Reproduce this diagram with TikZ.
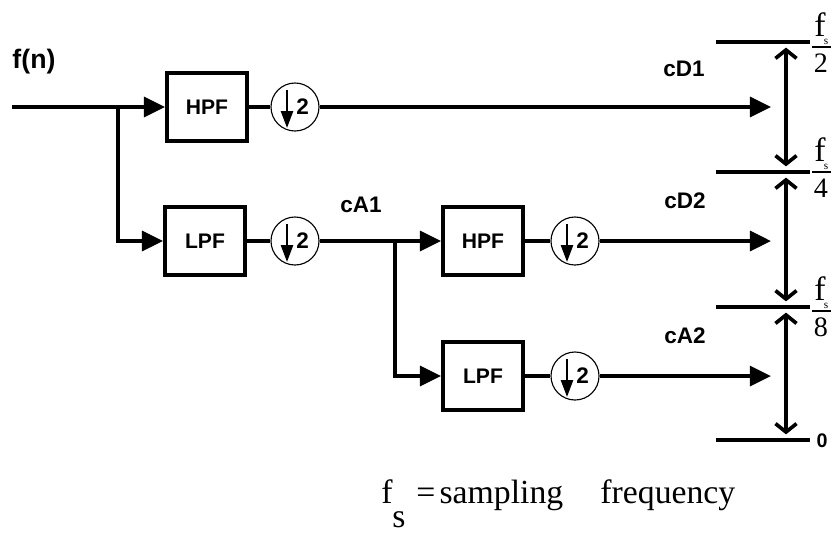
\documentclass[tikz,border=0pt]{standalone}
\usepackage{fontspec}
\setmainfont{Liberation Serif}
\setsansfont{Liberation Sans}
\usetikzlibrary{arrows.meta,positioning}

\tikzset{
  filt/.style={draw, line width=2.8pt, minimum width=2cm, minimum height=1.7cm,
    font=\sffamily\bfseries\fontsize{15}{17}\selectfont},
  decim/.style={draw, circle, line width=0.8pt, minimum size=1.2cm, inner sep=0pt,
    font=\sffamily\bfseries\fontsize{16}{17}\selectfont},
  sig/.style={line width=2.8pt},
  sigarr/.style={sig, -{Triangle[length=15pt,width=14pt]}},
  dnarr/.style={line width=1.8pt, -{Triangle[length=12pt,width=8.5pt]}},
  band/.style={line width=2.6pt,
    {Straight Barb[length=6pt,width=15pt]}-{Straight Barb[length=6pt,width=15pt]}},
  lab/.style={font=\sffamily\bfseries\fontsize{16}{18}\selectfont},
  fracnum/.style={font=\fontsize{24}{26}\selectfont, inner sep=0pt},
  fracden/.style={font=\fontsize{20}{22}\selectfont, inner sep=0pt},
  legend/.style={font=\fontsize{24}{26}\selectfont, inner sep=0pt}
}

\begin{document}
\begin{tikzpicture}[x=0.025cm,y=-0.025cm]
\useasboundingbox (0,0) rectangle (832,533);

% first stage
\node[font=\sffamily\bfseries\fontsize{19}{21}\selectfont] (fn) at (34,62) {f(n)};
\coordinate (in) at (12,107);
\coordinate (brA) at (118,107);
\node[filt] (hpfa) at (207,107) {HPF};
\node[filt] (lpfa) at (205,241) {LPF};
\node[decim] (dsa) at (295,107) {\hspace{11pt}\raisebox{-2pt}{2}};
\node[decim] (dsb) at (295,241) {\hspace{11pt}\raisebox{-2pt}{2}};

% second stage
\coordinate (brB) at (395,241);
\node[filt] (hpfb) at (483,241) {HPF};
\node[filt] (lpfb) at (483,376) {LPF};
\node[decim] (dsc) at (575,241) {\hspace{11pt}\raisebox{-2pt}{2}};
\node[decim] (dsd) at (575,376) {\hspace{11pt}\raisebox{-2pt}{2}};

\coordinate (outa) at (771,107);
\coordinate (outb) at (771,241);
\coordinate (outc) at (771,376);

\node[lab] (cda) at (684,69) {cD1};
\node[lab] (caa) at (361,205) {cA1};
\node[lab] (cdb) at (685,201) {cD2};
\node[lab] (cab) at (685,336) {cA2};

\draw[sigarr] (in) -- (hpfa.west);
\draw[sigarr] (brA) |- (lpfa.west);
\draw[sig] (hpfa) -- (dsa);
\draw[sigarr] (dsa) -- (outa);
\draw[sig] (lpfa) -- (dsb);
\draw[sig] (dsb) -- (brB);
\draw[sigarr] (brB) -- (hpfb.west);
\draw[sigarr] (brB) |- (lpfb.west);
\draw[sig] (hpfb) -- (dsc);
\draw[sigarr] (dsc) -- (outb);
\draw[sig] (lpfb) -- (dsd);
\draw[sigarr] (dsd) -- (outc);

\foreach \c in {dsa,dsb,dsc,dsd}
  \draw[dnarr] ([shift={(-8,-17)}]\c.center) -- ([shift={(-8,21)}]\c.center);

% frequency bands
\coordinate (lva) at (786,42);
\coordinate (lvb) at (786,172);
\coordinate (lvc) at (786,307);
\coordinate (lvd) at (786,440);
\foreach \l in {lva,lvb,lvc,lvd}
  \draw[line width=2.8pt] ([xshift=-50]\l) -- ([xshift=17]\l);
\draw[band, shorten <=4pt, shorten >=4pt] (lva) -- (lvb);
\draw[band, shorten <=4pt, shorten >=4pt] (lvb) -- (lvc);
\draw[band, shorten <=4pt, shorten >=4pt] (lvc) -- (lvd);

\foreach \y/\d in {47/2,172/4,311/8}{
  \draw[line width=0.8pt] (812,\y) -- (831,\y);
  \node[fracnum, anchor=base] at (820,\y-11) {f};
  \node[font=\fontsize{8}{9}\selectfont, inner sep=0pt] at (826,\y-5) {s};
  \node[fracden, anchor=base] at (821,\y+25) {\d};
}
\node[font=\sffamily\bfseries\fontsize{14}{16}\selectfont] (zero) at (822,441) {0};

% legend
\node[legend, anchor=base west] (fsym) at (381,503) {f};
\node[legend, anchor=base west] (fsub) at (392,527) {s};
\node[legend, anchor=base west] (fdef) at (416,503) {=\kern3pt sampling\hspace{1.1em}frequency};
\end{tikzpicture}
\end{document}
